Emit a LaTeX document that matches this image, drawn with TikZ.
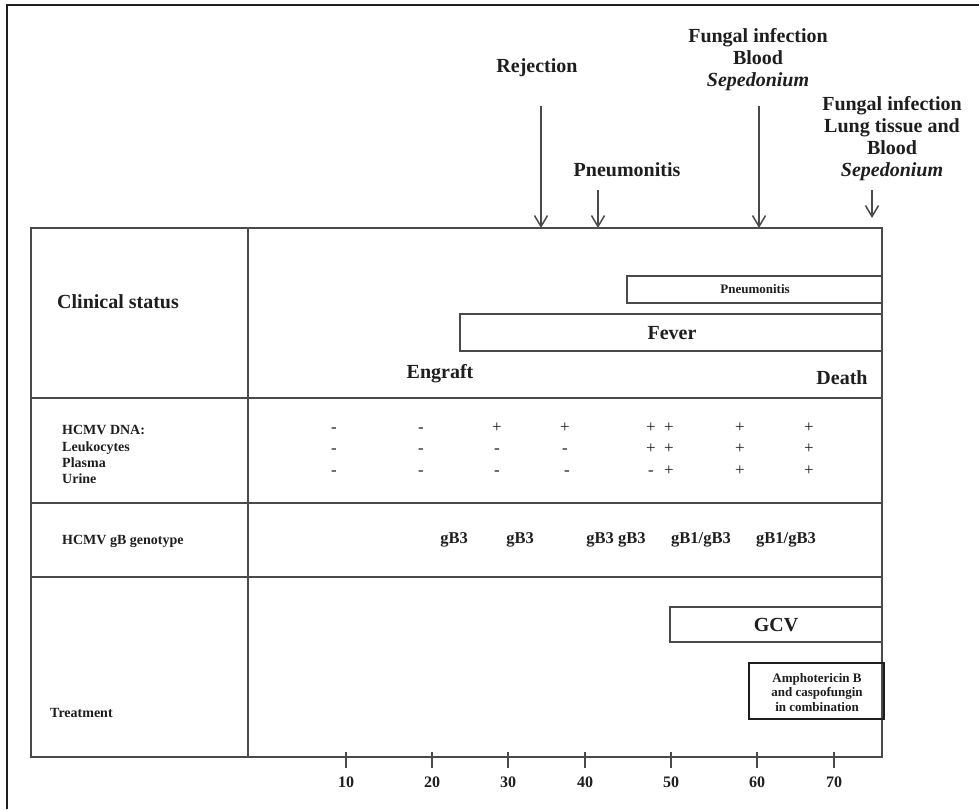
\documentclass[tikz,border=0pt]{standalone}
\usepackage{fontspec}
\setmainfont{Liberation Serif}
\usetikzlibrary{arrows.meta}
\definecolor{ink}{HTML}{1E1E1E}
\definecolor{rule}{HTML}{4A4A4A}
\tikzset{
  tbl/.style={draw=rule, line width=1.4pt},
  box/.style={draw=rule, line width=1.4pt},
  evarrow/.style={draw=rule, line width=1.5pt, -{Straight Barb[length=11pt,width=13pt,line width=1.5pt]}},
  big/.style={font=\fontsize{20}{22}\selectfont\bfseries, text=ink, inner sep=0pt, anchor=mid, yshift=-4pt},
  lab/.style={font=\fontsize{14}{16}\selectfont\bfseries, text=ink, inner sep=0pt, anchor=mid west, yshift=-2.5pt},
  sym/.style={font=\fontsize{17}{20}\selectfont, text=ink, inner sep=0pt, anchor=mid, yshift=-3pt},
  geno/.style={font=\fontsize{16.5}{20}\selectfont\bfseries, text=ink, inner sep=0pt, anchor=mid, yshift=-3pt},
  small/.style={font=\fontsize{13}{15}\selectfont\bfseries, text=ink, inner sep=0pt, anchor=mid, yshift=-2.5pt},
  axlab/.style={font=\fontsize{16}{18}\selectfont\bfseries, text=ink, inner sep=0pt, anchor=mid, yshift=-3.5pt},
}
\begin{document}
\begin{tikzpicture}[x=1pt,y=-1pt]
\useasboundingbox (0,0) rectangle (979,809);
% outer frame
\draw[draw=ink, line width=2.2pt] (979,5) -- (7,5) -- (7,809);

% table
\draw[tbl] (31,228) rectangle (882,757);
\draw[tbl] (248,228) -- (248,757);
\draw[tbl] (31,398) -- (882,398);
\draw[tbl] (31,503) -- (882,503);
\draw[tbl] (31,577) -- (882,577);

% top events
\node[big] (rej) at (537,66) {Rejection};
\coordinate (rejs) at (541,106);
\coordinate (reje) at (541,228);
\draw[evarrow] (rejs) -- (reje);

\node[big] (pneu) at (627,170) {Pneumonitis};
\coordinate (pneus) at (598,190);
\coordinate (pneue) at (598,228);
\draw[evarrow] (pneus) -- (pneue);

\node[big] (fa1) at (758,36) {Fungal infection};
\node[big] (fa2) at (758,58) {Blood};
\node[big] (fa3) at (758,80) {\itshape Sepedonium};
\coordinate (fas) at (759,106);
\coordinate (fae) at (759,228);
\draw[evarrow] (fas) -- (fae);

\node[big] (fb1) at (892,104) {Fungal infection};
\node[big] (fb2) at (892,126) {Lung tissue and};
\node[big] (fb3) at (892,148) {Blood};
\node[big] (fb4) at (892,170) {\itshape Sepedonium};
\coordinate (fbs) at (872,190);
\coordinate (fbe) at (872,218);
\draw[evarrow] (fbs) -- (fbe);

% clinical status
\node[big, anchor=mid west] (cs) at (57,302) {Clinical status};
\draw[box] (627,276) rectangle (882,303);
\node[small] (pnbox) at (755,289) {Pneumonitis};
\draw[box] (460,314) rectangle (882,351);
\node[big] (fever) at (672,333) {Fever};
\node[big] (engraft) at (440,372) {Engraft};
\node[big] (death) at (842,378) {Death};

% HCMV DNA
\node[lab] (dna) at (62,430) {HCMV DNA:};
\node[lab] (leu) at (62,447) {Leukocytes};
\node[lab] (pla) at (62,463) {Plasma};
\node[lab] (uri) at (62,479) {Urine};

\node[sym] (r1c1) at (334,427) {-};
\node[sym] (r1c2) at (421,427) {-};
\node[sym] (r1c3) at (497,427) {+};
\node[sym] (r1c4) at (565,427) {+};
\node[sym] (r1c5a) at (651,427) {+};
\node[sym] (r1c5b) at (669,427) {+};
\node[sym] (r1c6) at (740,427) {+};
\node[sym] (r1c7) at (809,427) {+};

\node[sym] (r2c1) at (334,448) {-};
\node[sym] (r2c2) at (421,448) {-};
\node[sym] (r2c3) at (497,448) {-};
\node[sym] (r2c4) at (565,448) {-};
\node[sym] (r2c5a) at (651,448) {+};
\node[sym] (r2c5b) at (669,448) {+};
\node[sym] (r2c6) at (740,448) {+};
\node[sym] (r2c7) at (809,448) {+};

\node[sym] (r3c1) at (334,470) {-};
\node[sym] (r3c2) at (421,470) {-};
\node[sym] (r3c3) at (497,470) {-};
\node[sym] (r3c4) at (567,470) {-};
\node[sym] (r3c5a) at (651,470) {-};
\node[sym] (r3c5b) at (669,470) {+};
\node[sym] (r3c6) at (740,470) {+};
\node[sym] (r3c7) at (809,470) {+};

% genotype
\node[lab] (gblab) at (62,540) {HCMV gB genotype};
\node[geno] (g1) at (454,538) {gB3};
\node[geno] (g2) at (520,538) {gB3};
\node[geno] (g3) at (616,538) {gB3 gB3};
\node[geno] (g4) at (701,538) {gB1/gB3};
\node[geno] (g5) at (786,538) {gB1/gB3};

% treatment
\node[lab] (treat) at (50,713) {Treatment};
\draw[box] (670,607) rectangle (882,642);
\node[big] (gcv) at (776,625) {GCV};
\draw[draw=ink, line width=1.6pt] (749,663) rectangle (884,719);
\node[small] (am1) at (817,678) {Amphotericin B};
\node[small] (am2) at (817,692) {and caspofungin};
\node[small] (am3) at (817,707) {in combination};

% axis
\foreach \xx/\lbl in {346/10,432/20,508/30,585/40,671/50,757/60,834/70}{
  \draw[draw=rule, line width=1.3pt] (\xx,752) -- (\xx,768);
  \node[axlab] (ax\lbl) at (\xx,782) {\lbl};
}
\end{tikzpicture}
\end{document}
